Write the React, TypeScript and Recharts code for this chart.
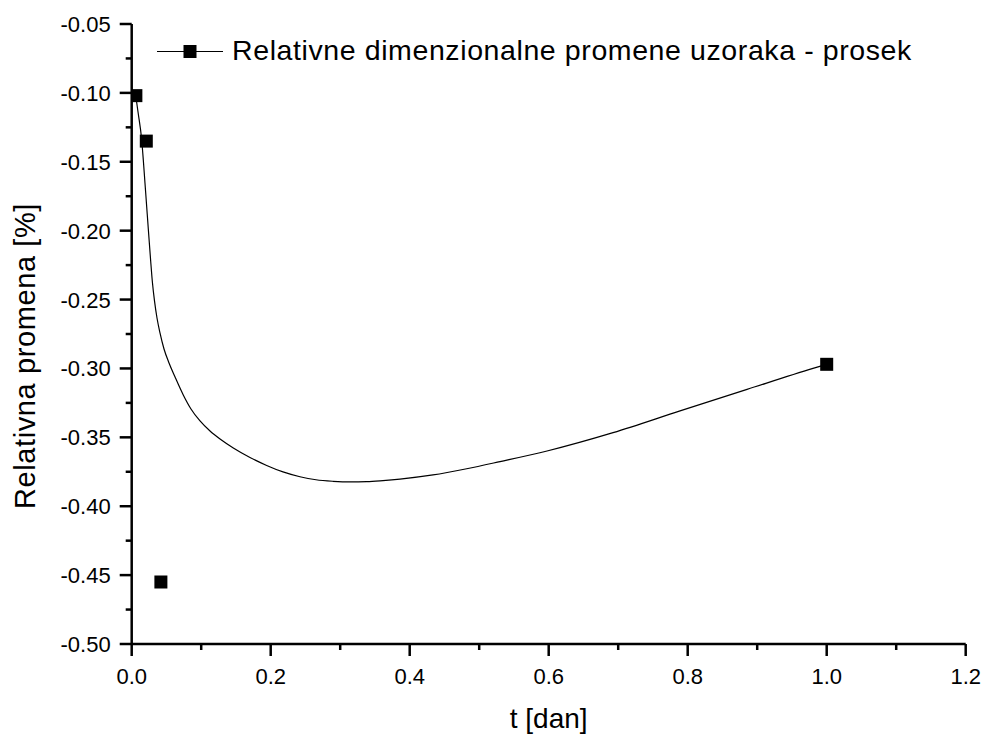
import React from 'react';
import { ComposedChart, Line, Scatter, XAxis, YAxis, Legend, Label } from 'recharts';

// measured sample points (t in days, relative change in %)
const pointT = [0.006, 0.021, 0.042, 1.0];
const pointValues = [-0.102, -0.135, -0.455, -0.297];

// smooth fitted curve
const curveT = [
  0.0058, 0.0091, 0.0144, 0.0167, 0.0191, 0.0216, 0.0239, 0.0273, 0.0299, 0.0328,
  0.0364, 0.0407, 0.0465, 0.0537, 0.0624, 0.0742, 0.0853, 0.0983, 0.1127, 0.1271,
  0.1462, 0.1702, 0.1942, 0.2177, 0.2421, 0.2652, 0.2896, 0.3141, 0.3381, 0.3616,
  0.386, 0.4335, 0.482, 0.53, 0.5976, 0.6926, 0.789, 0.8854, 0.9803, 1.0,
];
const curveValues = [
  -0.102, -0.1139, -0.1342, -0.1487, -0.1654, -0.1828, -0.1988, -0.222, -0.238, -0.251,
  -0.2634, -0.2742, -0.2859, -0.296, -0.3062, -0.3192, -0.3294, -0.3381, -0.3454, -0.3512,
  -0.3577, -0.3646, -0.3704, -0.3751, -0.3786, -0.3808, -0.3819, -0.3824, -0.3822, -0.3814,
  -0.3803, -0.3773, -0.3728, -0.3676, -0.3599, -0.3466, -0.3308, -0.3152, -0.3, -0.297,
];

const xTicks = [0, 0.1, 0.2, 0.3, 0.4, 0.5, 0.6, 0.7, 0.8, 0.9, 1.0, 1.1, 1.2];
const yTicks = [
  -0.5, -0.475, -0.45, -0.425, -0.4, -0.375, -0.35, -0.325, -0.3, -0.275, -0.25,
  -0.225, -0.2, -0.175, -0.15, -0.125, -0.1, -0.075, -0.05,
];

const seriesName = 'Relativne dimenzionalne promene uzoraka - prosek';
const xTitle = 't [dan]';
const yTitle = 'Relativna promena [%]';

const pointData = pointT.map((t, i) => ({ x: t, y: pointValues[i] }));
const curveData = curveT.map((t, i) => ({ x: t, y: curveValues[i] }));

const FONT = '"Liberation Sans", Arial, sans-serif';

const XTick = (props: any) => {
  const { x, y, payload } = props;
  const v = payload.value as number;
  const major = Math.round(v * 10) % 2 === 0;
  return (
    <g>
      <line x1={x} y1={y} x2={x} y2={y + (major ? 12 : 6)} stroke="#000" strokeWidth={2.5} />
      {major && (
        <text x={x} y={y + 40} textAnchor="middle" fontSize={22} fontFamily={FONT} fill="#000">
          {v.toFixed(1)}
        </text>
      )}
    </g>
  );
};

const YTick = (props: any) => {
  const { x, y, payload } = props;
  const v = payload.value as number;
  const major = Math.round(Math.abs(v) * 1000) % 50 === 0;
  return (
    <g>
      <line x1={x} y1={y} x2={x - (major ? 12 : 6)} y2={y} stroke="#000" strokeWidth={2.5} />
      {major && (
        <text x={x - 21} y={y + 8} textAnchor="end" fontSize={22} fontFamily={FONT} fill="#000">
          {v.toFixed(2)}
        </text>
      )}
    </g>
  );
};

const Square = (props: any) => {
  const { cx, cy } = props;
  return <rect x={cx - 6.5} y={cy - 6.5} width={13} height={13} fill="#000" />;
};

const LegendContent = () => (
  <svg width={986} height={80} style={{ display: 'block' }}>
    <line x1={157} y1={51.5} x2={223} y2={51.5} stroke="#000" strokeWidth={1.2} />
    <rect x={183.5} y={45} width={13} height={13} fill="#000" />
    <text x={232} y={60} fontSize={28.5} letterSpacing={0.6} fontFamily={FONT} fill="#000">
      {seriesName}
    </text>
  </svg>
);

export default function App() {
  return (
    <div style={{ position: 'absolute', left: 0, top: 0, width: 986, height: 738, background: '#fff' }}>
      <ComposedChart
        width={986}
        height={738}
        margin={{ top: 24, right: 20.3, bottom: 0, left: 0 }}
        style={{ fontFamily: FONT }}
      >
        <XAxis
          type="number"
          dataKey="x"
          domain={[0, 1.2]}
          ticks={xTicks}
          interval={0}
          height={94}
          tickSize={0}
          tickMargin={0}
          tickLine={false}
          tick={<XTick />}
          axisLine={{ stroke: '#000', strokeWidth: 2.5 }}
          allowDataOverflow
        >
          <Label
            content={(p: any) => {
              const vb = p.viewBox;
              return (
                <text x={vb.x + vb.width / 2} y={vb.y + 84} textAnchor="middle" fontSize={28} fontFamily={FONT} fill="#000">
                  {xTitle}
                </text>
              );
            }}
          />
        </XAxis>
        <YAxis
          type="number"
          dataKey="y"
          domain={[-0.5, -0.05]}
          ticks={yTicks}
          interval={0}
          width={131.7}
          tickSize={0}
          tickMargin={0}
          tickLine={false}
          tick={<YTick />}
          axisLine={{ stroke: '#000', strokeWidth: 2.5 }}
          allowDataOverflow
        >
          <Label
            content={(p: any) => {
              const vb = p.viewBox;
              const cy = vb.y + vb.height / 2 + 22;
              return (
                <text
                  x={35}
                  y={cy}
                  textAnchor="middle"
                  fontSize={29}
                  letterSpacing={0.6}
                  fontFamily={FONT}
                  fill="#000"
                  transform={`rotate(-90, 35, ${cy})`}
                >
                  {yTitle}
                </text>
              );
            }}
          />
        </YAxis>
        <Legend
          layout="horizontal"
          verticalAlign="middle"
          align="center"
          content={<LegendContent />}
          wrapperStyle={{ left: 0, top: 0, width: 986, height: 80, pointerEvents: 'none' }}
        />
        <Line
          data={curveData}
          dataKey="y"
          type="monotone"
          stroke="#000"
          strokeWidth={1.2}
          dot={false}
          activeDot={false}
          isAnimationActive={false}
          legendType="none"
        />
        <Scatter data={pointData} dataKey="y" fill="#000" shape={<Square />} isAnimationActive={false} legendType="none" />
      </ComposedChart>
    </div>
  );
}
